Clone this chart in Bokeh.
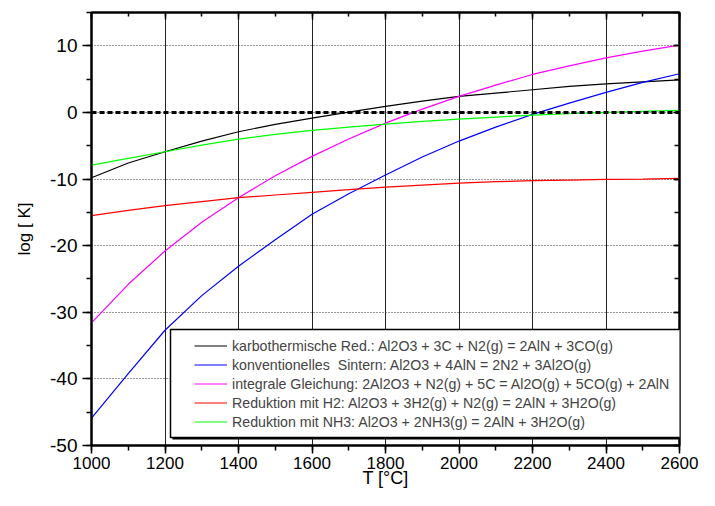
from bokeh.plotting import figure
from bokeh.models import (Range1d, LinearAxis, SingleIntervalTicker, FixedTicker, Span,
                          Legend, LegendItem, BoxAnnotation, CustomJSTickFormatter)
from bokeh.embed import file_html
from bokeh.resources import INLINE

# ---- data ----
T = [1000, 1100, 1200, 1300, 1400, 1500, 1600, 1700, 1800, 1900,
     2000, 2100, 2200, 2300, 2400, 2500, 2600]
karbo = [-9.8, -7.6, -5.9, -4.3, -2.9, -1.8, -0.85, 0.05, 0.9, 1.7,
         2.4, 2.9, 3.4, 3.9, 4.3, 4.6, 4.9]
sintern = [-45.9, -39.2, -32.7, -27.5, -23.1, -19.1, -15.3, -12.2, -9.4, -6.7,
           -4.3, -2.2, -0.3, 1.4, 3.0, 4.5, 5.8]
integral = [-31.6, -25.8, -20.8, -16.5, -12.8, -9.5, -6.6, -4.0, -1.6, 0.5,
            2.4, 4.1, 5.7, 7.0, 8.2, 9.2, 10.1]
h2 = [-15.5, -14.7, -14.0, -13.4, -12.8, -12.4, -12.0, -11.6, -11.2, -10.9,
      -10.6, -10.4, -10.25, -10.15, -10.05, -10.0, -9.9]
nh3 = [-7.9, -6.9, -5.9, -4.9, -4.0, -3.3, -2.7, -2.2, -1.75, -1.35,
       -1.0, -0.7, -0.4, -0.2, 0.0, 0.15, 0.3]

labels = [
    "karbothermische Red.: Al2O3 + 3C + N2(g) = 2AlN + 3CO(g)",
    "konventionelles  Sintern: Al2O3 + 4AlN = 2N2 + 3Al2O(g)",
    "integrale Gleichung: 2Al2O3 + N2(g) + 5C = Al2O(g) + 5CO(g) + 2AlN",
    "Reduktion mit H2: Al2O3 + 3H2(g) + N2(g) = 2AlN + 3H2O(g)",
    "Reduktion mit NH3: Al2O3 + 2NH3(g) = 2AlN + 3H2O(g)",
]
colors = ["#000000", "#0000ff", "#ff00ff", "#ff0000", "#00ff00"]
series = [karbo, sintern, integral, h2, nh3]

x_major = [1200, 1400, 1600, 1800, 2000, 2200, 2400]
y_major = [-40, -30, -20, -10, 0, 10]

FONT = "Liberation Sans"

p = figure(width=699, height=490, output_backend="svg", toolbar_location=None,
           x_range=Range1d(1000, 2600), y_range=Range1d(-50, 15),
           min_border_left=91, min_border_right=20, min_border_top=12, min_border_bottom=40)
p.background_fill_color = "white"
p.border_fill_color = "white"
p.outline_line_color = "black"
p.outline_line_width = 2

# grids
p.xgrid.ticker = FixedTicker(ticks=x_major)
p.xgrid.grid_line_color = "#222222"
p.xgrid.grid_line_width = 1
p.ygrid.ticker = FixedTicker(ticks=y_major)
p.ygrid.grid_line_color = "#333333"
p.ygrid.grid_line_width = 1
p.ygrid.grid_line_dash = "1 2"

xt = SingleIntervalTicker(interval=200, num_minor_ticks=2)
yt = SingleIntervalTicker(interval=10, num_minor_ticks=2)
fmt = CustomJSTickFormatter(code="return tick.toFixed(0);")
nofmt = CustomJSTickFormatter(code="return '';")

xa = p.xaxis[0]
xa.ticker = xt
xa.formatter = fmt
xa.major_tick_out = 8
xa.major_tick_in = 0
xa.minor_tick_out = 5
xa.minor_tick_in = 0
xa.major_label_standoff = 3
xa.major_label_text_font = FONT
xa.major_label_text_font_size = "17px"
xa.major_label_text_color = "black"
xa.axis_label = "T [°C]"
xa.axis_label_standoff = -4
xa.axis_label_text_font = FONT
xa.axis_label_text_font_size = "18px"
xa.axis_label_text_font_style = "normal"
xa.axis_label_text_color = "black"

ya = p.yaxis[0]
ya.ticker = yt
ya.formatter = fmt
ya.major_tick_out = 9
ya.major_tick_in = 0
ya.minor_tick_out = 5
ya.minor_tick_in = 0
ya.major_label_standoff = 5
ya.major_label_text_font = FONT
ya.major_label_text_font_size = "19px"
ya.major_label_text_color = "black"
ya.axis_label = "log [ K]"
ya.axis_label_standoff = 13
ya.axis_label_text_font = FONT
ya.axis_label_text_font_size = "17px"
ya.axis_label_text_font_style = "normal"
ya.axis_label_text_color = "black"

top = LinearAxis(ticker=xt, formatter=nofmt, major_tick_in=7, major_tick_out=0,
                 minor_tick_in=4, minor_tick_out=0, major_label_standoff=0,
                 major_label_text_font_size="1px")
right = LinearAxis(ticker=yt, formatter=nofmt, major_tick_in=6, major_tick_out=0,
                   minor_tick_in=5, minor_tick_out=0, major_label_standoff=0,
                   major_label_text_font_size="1px")
p.add_layout(top, "above")
p.add_layout(right, "right")

for ax in [xa, ya, top, right]:
    ax.axis_line_width = 2
    ax.axis_line_color = "black"
    ax.major_tick_line_width = 1.5
    ax.minor_tick_line_width = 1.5
    ax.major_tick_line_color = "black"
    ax.minor_tick_line_color = "black"

# zero line
p.add_layout(Span(location=0, dimension="width", line_color="black", line_width=3, line_dash="5 3"))

renderers = []
for ys, c in zip(series, colors):
    r = p.line(T, ys, line_color=c, line_width=1.2)
    renderers.append(r)

# legend frame (with shadow)
p.add_layout(BoxAnnotation(left=81, right=700, top=114, bottom=6,
                           left_units="screen", right_units="screen",
                           top_units="screen", bottom_units="screen",
                           fill_color="black", fill_alpha=1, line_alpha=0, level="annotation"))
p.add_layout(BoxAnnotation(left=79, right=700, top=116, bottom=8,
                           left_units="screen", right_units="screen",
                           top_units="screen", bottom_units="screen",
                           fill_color="white", fill_alpha=1, line_color="black",
                           line_width=1.5, line_alpha=1, level="annotation"))

legend = Legend(items=[LegendItem(label=l, renderers=[r]) for l, r in zip(labels, renderers)],
                location=(103, 14), padding=0, spacing=0, margin=0,
                glyph_width=33, glyph_height=19, label_height=19, label_standoff=5,
                label_text_font=FONT, label_text_font_size="14.2px",
                border_line_alpha=0, background_fill_alpha=0)
p.add_layout(legend, "center")

open("out.html", "w").write(file_html(p, INLINE))
